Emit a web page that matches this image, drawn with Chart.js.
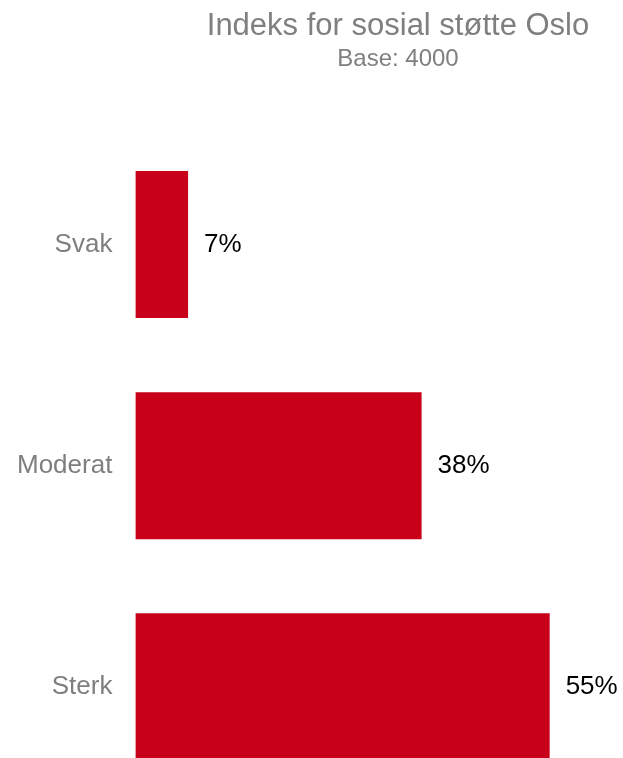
<!DOCTYPE html>
<html>
<head>
<meta charset="utf-8">
<script src="https://cdn.jsdelivr.net/npm/chart.js@4/dist/chart.umd.min.js"></script>
<style>
  html, body { margin: 0; padding: 0; background: #fff; overflow: hidden; }
  #wrap { width: 623px; height: 758px; overflow: hidden; position: relative; }
  #box { width: 850px; height: 836px; position: absolute; left: -21px; top: 0; }
</style>
</head>
<body>
<div id="wrap"><div id="box"><canvas id="c"></canvas></div></div>
<script>
const categories = ["Svak", "Moderat", "Sterk"];
const values = [7, 38, 55];
const valueLabels = ["7%", "38%", "55%"];
const titleText = "Indeks for sosial støtte Oslo";
const subtitleText = "Base: 4000";

const FONT = "'Liberation Sans', Arial, sans-serif";

const dataLabels = {
  id: 'dataLabels',
  afterDatasetsDraw(chart) {
    const ctx = chart.ctx;
    const meta = chart.getDatasetMeta(0);
    ctx.save();
    ctx.font = "26px " + FONT;
    ctx.fillStyle = "#000000";
    ctx.textAlign = "left";
    ctx.textBaseline = "middle";
    meta.data.forEach((bar, i) => {
      ctx.fillText(valueLabels[i], bar.x + 16, bar.y);
    });
    ctx.restore();
  }
};

new Chart(document.getElementById('c'), {
  type: 'bar',
  data: {
    labels: categories,
    datasets: [{
      data: values,
      backgroundColor: '#C80019',
      borderWidth: 0,
      barPercentage: 0.665,
      categoryPercentage: 1
    }]
  },
  options: {
    indexAxis: 'y',
    responsive: true,
    maintainAspectRatio: false,
    animation: false,
    layout: { padding: { left: 15, right: 27, top: 0, bottom: 3 } },
    plugins: {
      legend: { display: false },
      tooltip: { enabled: false },
      title: {
        display: true,
        text: titleText,
        color: '#7F7F7F',
        font: { family: FONT, size: 31, weight: 'normal' },
        padding: { top: 8, bottom: 0 }
      },
      subtitle: {
        display: true,
        text: subtitleText,
        color: '#7F7F7F',
        font: { family: FONT, size: 24, weight: 'normal' },
        padding: { top: 0, bottom: 60 }
      }
    },
    scales: {
      x: {
        display: false,
        min: 0,
        max: 88.5
      },
      y: {
        grid: { display: false, drawTicks: false },
        border: { display: false },
        ticks: {
          color: '#7F7F7F',
          font: { family: FONT, size: 26 },
          padding: 23
        }
      }
    }
  },
  plugins: [dataLabels]
});
</script>
</body>
</html>
